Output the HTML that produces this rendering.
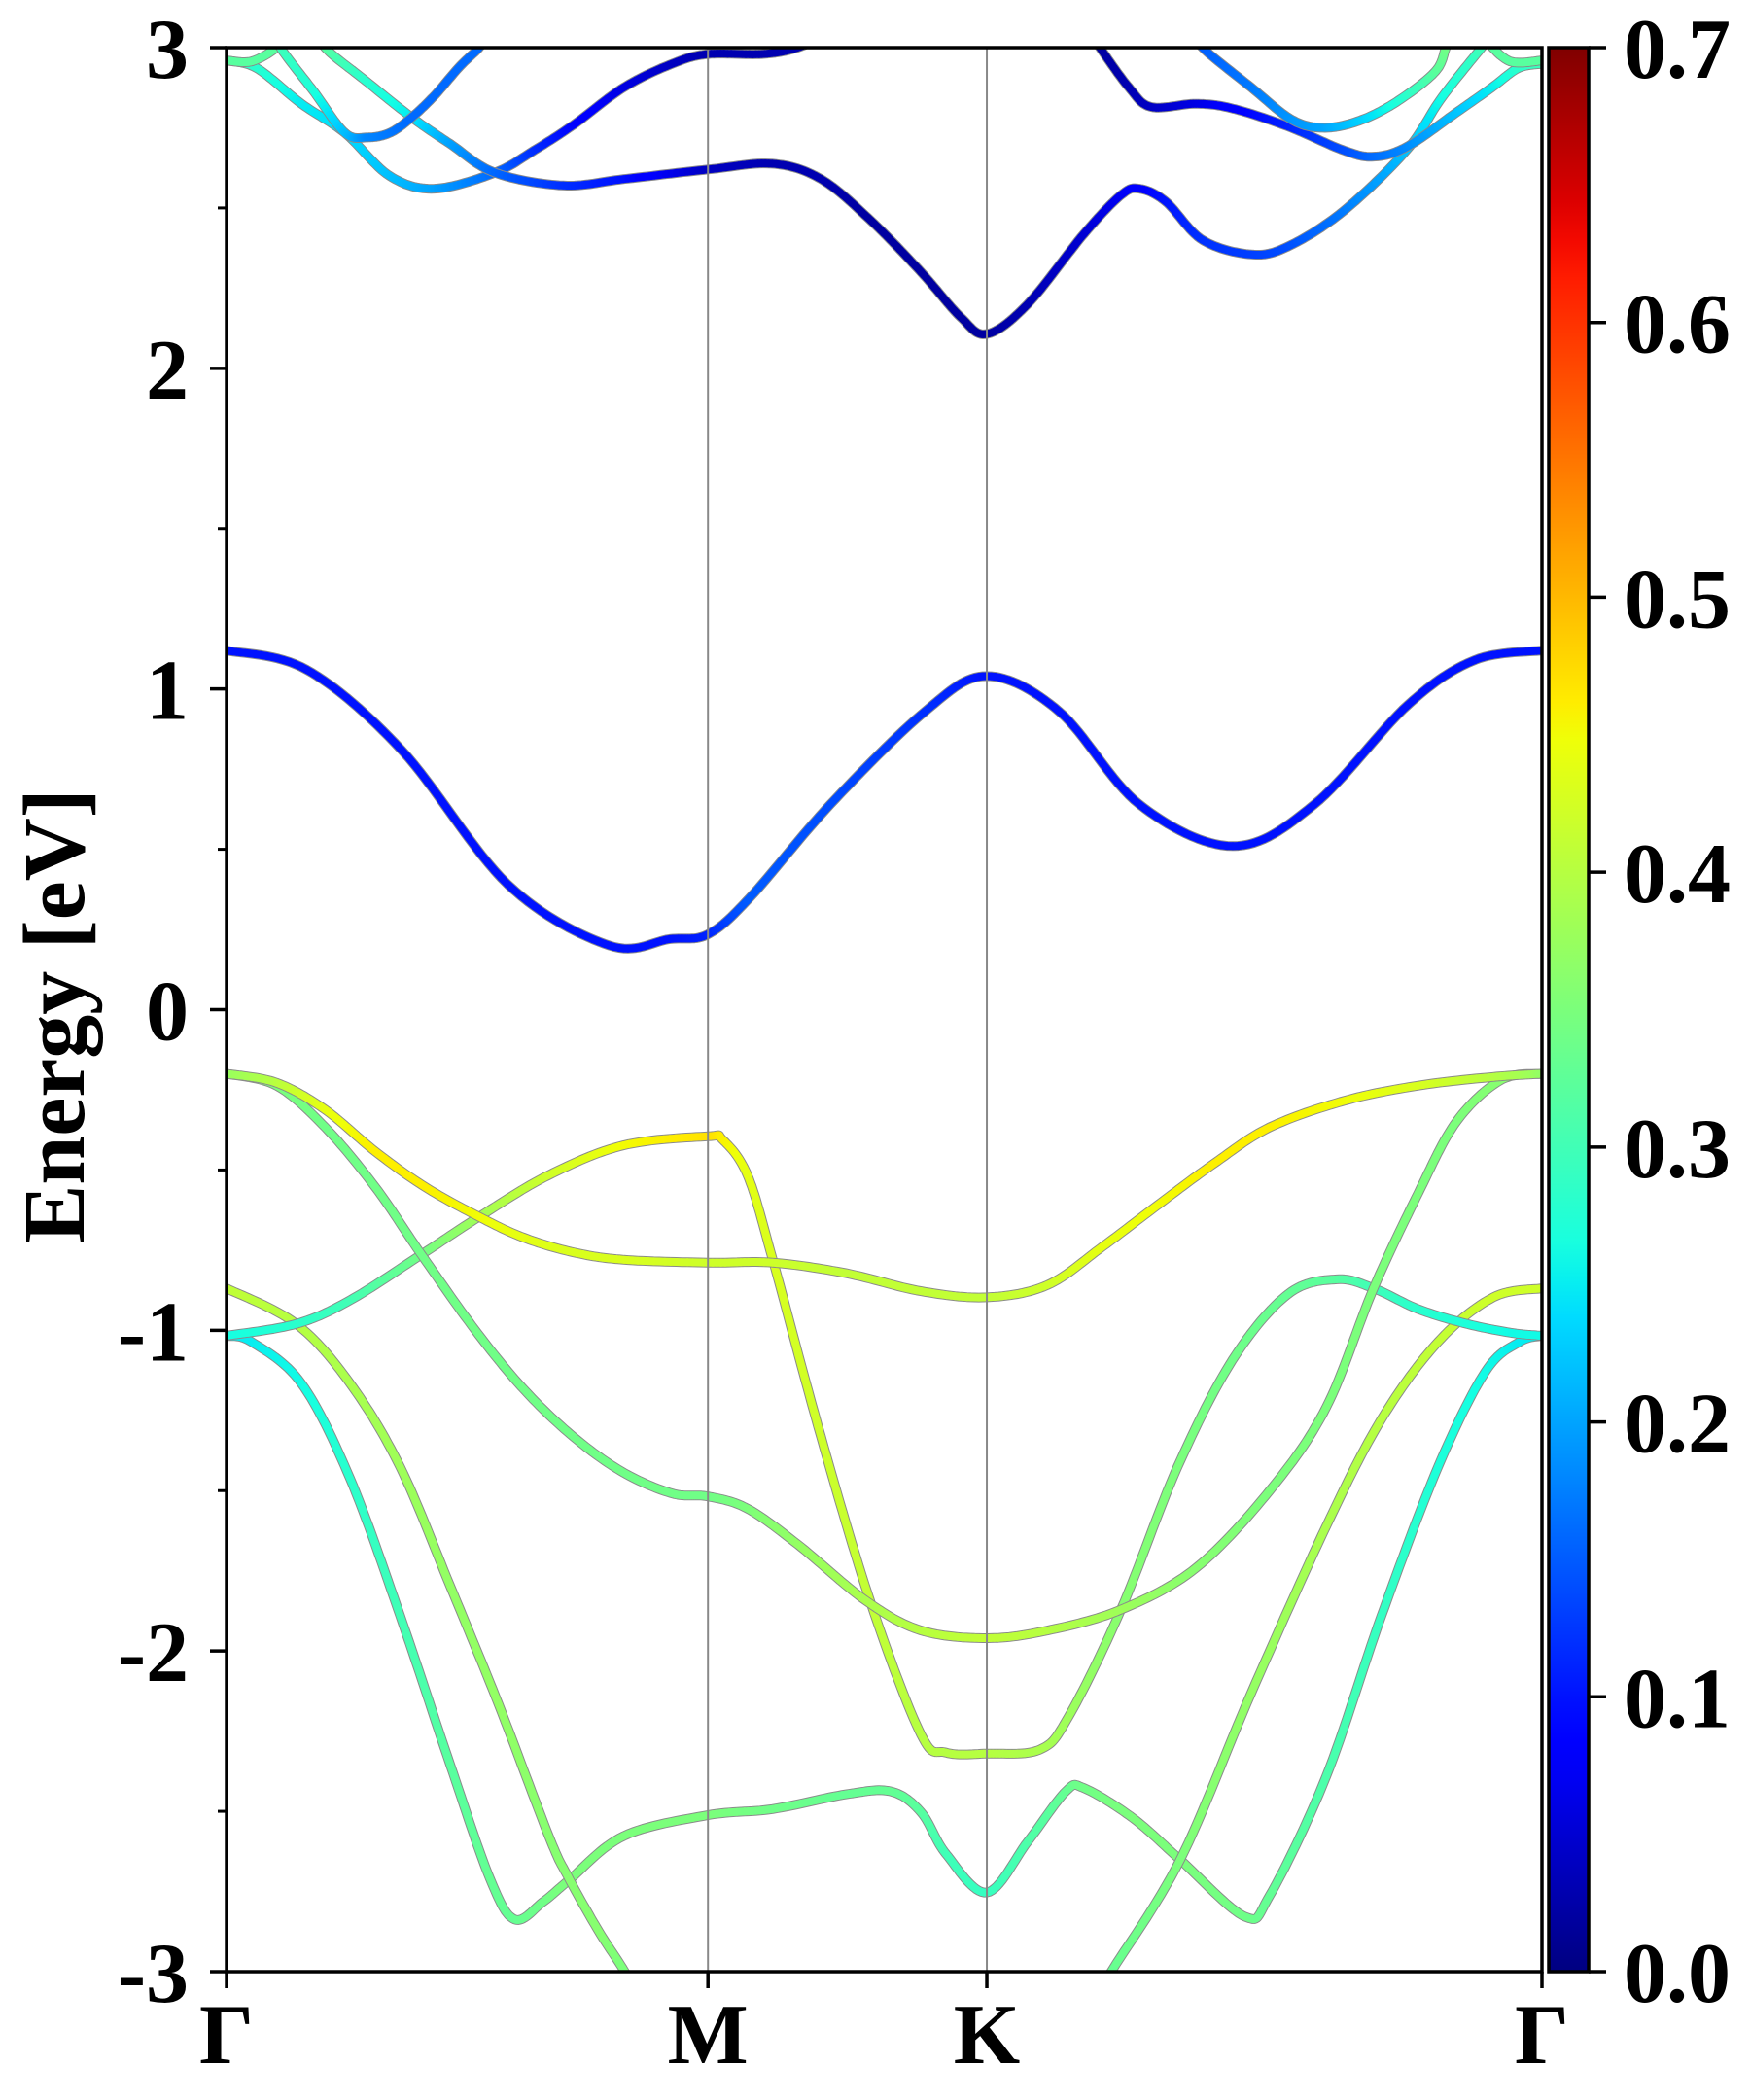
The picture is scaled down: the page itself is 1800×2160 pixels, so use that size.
<!DOCTYPE html>
<html><head><meta charset="utf-8"><style>
html,body{margin:0;padding:0;background:#fff;}
svg{display:block;font-family:"Liberation Serif","Times New Roman",serif;font-weight:bold;}
text{font-family:"Liberation Serif","Times New Roman",serif;font-weight:bold;}
</style></head><body>
<svg id="chart" width="1800" height="2160" viewBox="0 0 1800 2160">
<defs>
<clipPath id="plotclip"><rect x="233" y="49" width="1353" height="1979"/></clipPath>
<linearGradient id="jetgrad" x1="0" y1="1" x2="0" y2="0"></linearGradient>
</defs>
<g id="bands" clip-path="url(#plotclip)"></g>
<g id="axes"></g>
</svg>
<script>
// high-symmetry points
const kLabels = ["Γ","M","K","Γ"];
const kTicks = [0, 0.366, 0.578, 1.0];
const yTicks = [-3,-2,-1,0,1,2,3];
const yTickLabels = ["-3","-2","-1","0","1","2","3"];
const cbTicks = [0,0.1,0.2,0.3,0.4,0.5,0.6,0.7];
const cbTickLabels = ["0.0","0.1","0.2","0.3","0.4","0.5","0.6","0.7"];

// bands: k (path fraction), energy (eV), weight
const t1K=[0,.023,.057,.09,.124,.158,.204,.234,.264,.302,.339,.366,.407,.434,.46];
const t1E=[2.96,2.936,2.825,2.734,2.60,2.56,2.61,2.68,2.76,2.876,2.95,2.98,2.98,3.0,3.05];
const t1W=[.3,.28,.25,.24,.22,.2,.16,.12,.09,.06,.04,.03,.03,.03,.03];
const t2K=[.065,.075,.106,.14,.17,.204,.256,.302,.366,.415,.452,.49,.528,.558,.578,.609,.652,.68,.694,.714,.742,.779,.807,.849,.897,.924,.956,.965];
const t2E=[3.08,3.0,2.896,2.785,2.70,2.61,2.57,2.59,2.62,2.638,2.59,2.46,2.30,2.16,2.107,2.2,2.42,2.54,2.56,2.52,2.40,2.355,2.38,2.49,2.68,2.845,3.01,3.06];
const t2W=[.32,.32,.28,.25,.2,.16,.12,.1,.04,.03,.03,.02,.02,.02,.02,.03,.05,.07,.08,.1,.12,.13,.14,.17,.22,.26,.3,.3];
const t3aK=[0,.019,.038,.045];
const t3aE=[2.96,2.957,3.0,3.04];
const t3aW=[.32,.32,.32,.32];
const t3bK=[.036,.041,.066,.09,.107,.124,.14,.158,.177,.192,.198];
const t3bE=[3.06,3.0,2.865,2.734,2.72,2.734,2.78,2.85,2.94,3.0,3.04];
const t3bW=[.3,.3,.27,.22,.18,.17,.16,.16,.16,.16,.16];
const t4K=[.655,.664,.686,.703,.737,.765,.807,.849,.872,.897,.934,.962,.982,1.0];
const t4E=[3.06,3.0,2.876,2.815,2.825,2.81,2.754,2.68,2.66,2.69,2.795,2.876,2.936,2.95];
const t4W=[.02,.02,.03,.04,.06,.08,.11,.14,.16,.18,.22,.25,.28,.3];
const t5K=[.737,.742,.779,.81,.835,.863,.891,.919,.927,.932];
const t5E=[3.05,3.0,2.876,2.775,2.75,2.775,2.835,2.926,3.0,3.05];
const t5W=[.15,.15,.17,.19,.2,.23,.27,.32,.34,.34];
const t7K=[.952,.958,.976,1.0];
const t7E=[3.06,3.02,2.957,2.96];
const t7W=[.32,.32,.32,.32];
const c1K=[0,.061,.133,.214,.291,.337,.366,.398,.459,.531,.578,.633,.694,.765,.827,.898,.949,1];
const c1E=[1.12,1.06,0.81,0.39,0.2,0.22,0.235,0.35,0.64,0.93,1.04,0.93,0.64,0.51,0.64,0.95,1.09,1.12];
const c1W=[.1,.1,.1,.1,.1,.1,.11,.15,.14,.12,.1,.1,.1,.1,.1,.1,.1,.1];
const v1K=[0,.038,.075,.113,.151,.192,.226,.264,.302,.366,.415,.471,.528,.578,.624,.666,.708,.751,.793,.85,.906,.963,1.0];
const v1E=[-0.2,-0.228,-0.312,-0.442,-0.553,-0.646,-0.711,-0.757,-0.78,-0.789,-0.789,-0.822,-0.878,-0.897,-0.859,-0.739,-0.609,-0.479,-0.367,-0.284,-0.237,-0.21,-0.2];
const v1W=[.37,.4,.44,.46,.46,.45,.44,.43,.43,.42,.42,.41,.41,.41,.42,.44,.45,.46,.46,.45,.43,.4,.37];
const v2K=[0,.038,.075,.113,.147,.189,.226,.264,.302,.339,.366,.396,.434,.486,.528,.578,.624,.68,.737,.793,.836,.872,.906,.935,.969,1.0];
const v2E=[-0.2,-0.237,-0.367,-0.553,-0.757,-0.999,-1.184,-1.333,-1.444,-1.509,-1.518,-1.556,-1.667,-1.843,-1.936,-1.96,-1.936,-1.871,-1.741,-1.5,-1.24,-0.869,-0.572,-0.349,-0.219,-0.2];
const v2W=[.35,.35,.34,.34,.34,.34,.34,.34,.34,.34,.34,.35,.37,.39,.4,.41,.4,.38,.36,.35,.35,.35,.35,.35,.36,.37];
const v3K=[0,.053,.094,.147,.192,.245,.302,.366,.377,.396,.415,.452,.49,.528,.547,.578,.618,.64,.68,.723,.765,.807,.844,.872,.906,.943,.977,1.0];
const v3E=[-1.017,-0.98,-0.906,-0.767,-0.646,-0.516,-0.423,-0.395,-0.405,-0.516,-0.776,-1.333,-1.853,-2.261,-2.317,-2.32,-2.308,-2.206,-1.871,-1.426,-1.091,-0.887,-0.841,-0.869,-0.934,-0.98,-1.008,-1.017];
const v3W=[.26,.28,.3,.34,.38,.42,.45,.47,.46,.44,.43,.42,.41,.4,.4,.4,.39,.38,.36,.35,.34,.33,.32,.3,.28,.27,.26,.26];
const v4K=[0,.053,.094,.132,.17,.207,.245,.26,.283,.302,.313];
const v4E=[-0.869,-0.98,-1.166,-1.426,-1.797,-2.168,-2.577,-2.707,-2.874,-2.995,-3.08];
const v4W=[.41,.4,.39,.38,.37,.37,.36,.36,.36,.35,.35];
const v4rK=[.663,.672,.725,.779,.836,.878,.921,.963,1.0];
const v4rE=[-3.08,-3.004,-2.651,-2.131,-1.611,-1.277,-1.036,-0.897,-0.869];
const v4rW=[.33,.33,.35,.37,.39,.4,.41,.42,.42];
const v5K=[0,.019,.057,.094,.132,.17,.2,.219,.241,.26,.302,.366,.415,.471,.505,.528,.547,.578,.609,.638,.652,.689,.725,.774,.793,.836,.878,.921,.957,.983,1.0];
const v5E=[-1.017,-1.036,-1.166,-1.463,-1.89,-2.354,-2.707,-2.837,-2.781,-2.716,-2.577,-2.512,-2.493,-2.447,-2.438,-2.503,-2.633,-2.753,-2.595,-2.438,-2.428,-2.521,-2.651,-2.828,-2.763,-2.391,-1.89,-1.426,-1.129,-1.036,-1.017];
const v5W=[.25,.25,.26,.28,.3,.32,.33,.33,.34,.35,.35,.35,.34,.33,.33,.32,.3,.29,.31,.33,.34,.35,.35,.34,.33,.31,.29,.27,.26,.25,.25];

const bandList=[
 ["band-v5",v5K,v5E,v5W],["band-v4",v4K,v4E,v4W],["band-v4-right",v4rK,v4rE,v4rW],
 ["band-v3",v3K,v3E,v3W],["band-v2",v2K,v2E,v2W],["band-v1",v1K,v1E,v1W],
 ["band-c1",c1K,c1E,c1W],["band-t1",t1K,t1E,t1W],["band-t2",t2K,t2E,t2W],
 ["band-t3a",t3aK,t3aE,t3aW],["band-t3b",t3bK,t3bE,t3bW],["band-t4",t4K,t4E,t4W],
 ["band-t5",t5K,t5E,t5W],["band-t7",t7K,t7E,t7W]];

const X0=233,X1=1586,Y0=49,Y1=2028,EMIN=-3,EMAX=3,WMAX=0.7;
const xs=k=>X0+k*(X1-X0);
const ys=e=>Y1-(e-EMIN)/(EMAX-EMIN)*(Y1-Y0);
const NS="http://www.w3.org/2000/svg";
const FONT='"Liberation Serif","Times New Roman",serif';
function mk(tag,attrs,parent){const el=document.createElementNS(NS,tag);for(const a in attrs)el.setAttribute(a,attrs[a]);parent.appendChild(el);return el;}
const JR=[[0,0],[0.35,0],[0.66,1],[0.89,1],[1,0.5]];
const JG=[[0,0],[0.125,0],[0.375,1],[0.64,1],[0.91,0],[1,0]];
const JB=[[0,0.5],[0.11,1],[0.34,1],[0.65,0],[1,0]];
function seg(tab,v){for(let i=0;i<tab.length-1;i++){if(v<=tab[i+1][0]){const t=(v-tab[i][0])/(tab[i+1][0]-tab[i][0]);return tab[i][1]+t*(tab[i+1][1]-tab[i][1]);}}return tab[tab.length-1][1];}
function jet(v){v=Math.max(0,Math.min(1,v));
 return `rgb(${Math.round(seg(JR,v)*255)},${Math.round(seg(JG,v)*255)},${Math.round(seg(JB,v)*255)})`;}

const grad=document.getElementById('jetgrad');
for(let i=0;i<=50;i++){mk('stop',{offset:i/50,'stop-color':jet(i/50)},grad);}

const bandsG=document.getElementById('bands');
bandList.forEach(([name,K,E,W])=>{
 const g=mk('g',{},bandsG);
 
 
 const P=K.map((k,i)=>[xs(k),ys(E[i])]);
 const pts=[],wts=[];
 const n=P.length;
 for(let i=0;i<n-1;i++){
  const p0=P[Math.max(0,i-1)],p1=P[i],p2=P[i+1],p3=P[Math.min(n-1,i+2)];
  const S=16;
  for(let s=0;s<S;s++){const t=s/S,t2=t*t,t3=t2*t;
   const x=0.5*((2*p1[0])+(-p0[0]+p2[0])*t+(2*p0[0]-5*p1[0]+4*p2[0]-p3[0])*t2+(-p0[0]+3*p1[0]-3*p2[0]+p3[0])*t3);
   const y=0.5*((2*p1[1])+(-p0[1]+p2[1])*t+(2*p0[1]-5*p1[1]+4*p2[1]-p3[1])*t2+(-p0[1]+3*p1[1]-3*p2[1]+p3[1])*t3);
   pts.push([x,y]);wts.push(W[i]+(W[i+1]-W[i])*t);}
 }
 pts.push(P[n-1]);wts.push(W[n-1]);
 mk('polyline',{points:pts.map(p=>p[0].toFixed(1)+','+p[1].toFixed(1)).join(' '),fill:'none',stroke:'#8a8a8a','stroke-width':10,'stroke-linejoin':'round'},g);
 for(let i=0;i<pts.length-1;i++){
  mk('line',{x1:pts[i][0].toFixed(1),y1:pts[i][1].toFixed(1),x2:pts[i+1][0].toFixed(1),y2:pts[i+1][1].toFixed(1),stroke:jet((wts[i]+wts[i+1])/2/WMAX),'stroke-width':8,'stroke-linecap':'round'},g);
 }
});

const ax=document.getElementById('axes');
kTicks.slice(1,3).forEach((k,i)=>{
 const l=mk('line',{x1:xs(k),x2:xs(k),y1:Y0,y2:Y1,stroke:'#888','stroke-width':2},ax);
 
 
});
yTicks.forEach((v,i)=>{
 const y=ys(v);
 const t=mk('line',{x1:216,x2:X0,y1:y,y2:y,stroke:'#000','stroke-width':3.5},ax);
 
 
 const tx=mk('text',{x:194,y:y+31,'text-anchor':'end','font-size':88,fill:'#000','font-family':FONT,'font-weight':'bold'},ax);
 tx.textContent=yTickLabels[i];
 
 
 if(i<yTicks.length-1){const ym=ys(v+0.5);
  const m=mk('line',{x1:224,x2:X0,y1:ym,y2:ym,stroke:'#000','stroke-width':3},ax);
  
  }
});
kTicks.forEach((k,i)=>{
 const x=xs(k);
 const t=mk('line',{x1:x,x2:x,y1:Y1,y2:Y1+17,stroke:'#000','stroke-width':3.5},ax);
 
 
 const tx=mk('text',{x:x,y:2122,'text-anchor':'middle','font-size':88,fill:'#000','font-family':FONT,'font-weight':'bold'},ax);
 tx.textContent=kLabels[i];
 
 
});
const fr=mk('rect',{x:X0,y:Y0,width:X1-X0,height:Y1-Y0,fill:'none',stroke:'#000','stroke-width':3.5},ax);


const yt=mk('text',{x:0,y:0,'text-anchor':'middle','font-size':90,fill:'#000','font-family':FONT,'font-weight':'bold',transform:'translate(86,1045) rotate(-90)'},ax);
yt.textContent='Energy [eV]';


const CB0=1593,CB1=1634;
const cb=mk('rect',{x:CB0,y:Y0,width:CB1-CB0,height:Y1-Y0,fill:'url(#jetgrad)',stroke:'#000','stroke-width':3.5},ax);


cbTicks.forEach((v,i)=>{
 const y=Y1-v/WMAX*(Y1-Y0);
 const t=mk('line',{x1:CB1,x2:CB1+18,y1:y,y2:y,stroke:'#000','stroke-width':3.5},ax);
 
 
 const tx=mk('text',{x:1670,y:y+31,'font-size':88,fill:'#000','font-family':FONT,'font-weight':'bold'},ax);
 tx.textContent=cbTickLabels[i];
 
 
});
</script>
</body></html>
